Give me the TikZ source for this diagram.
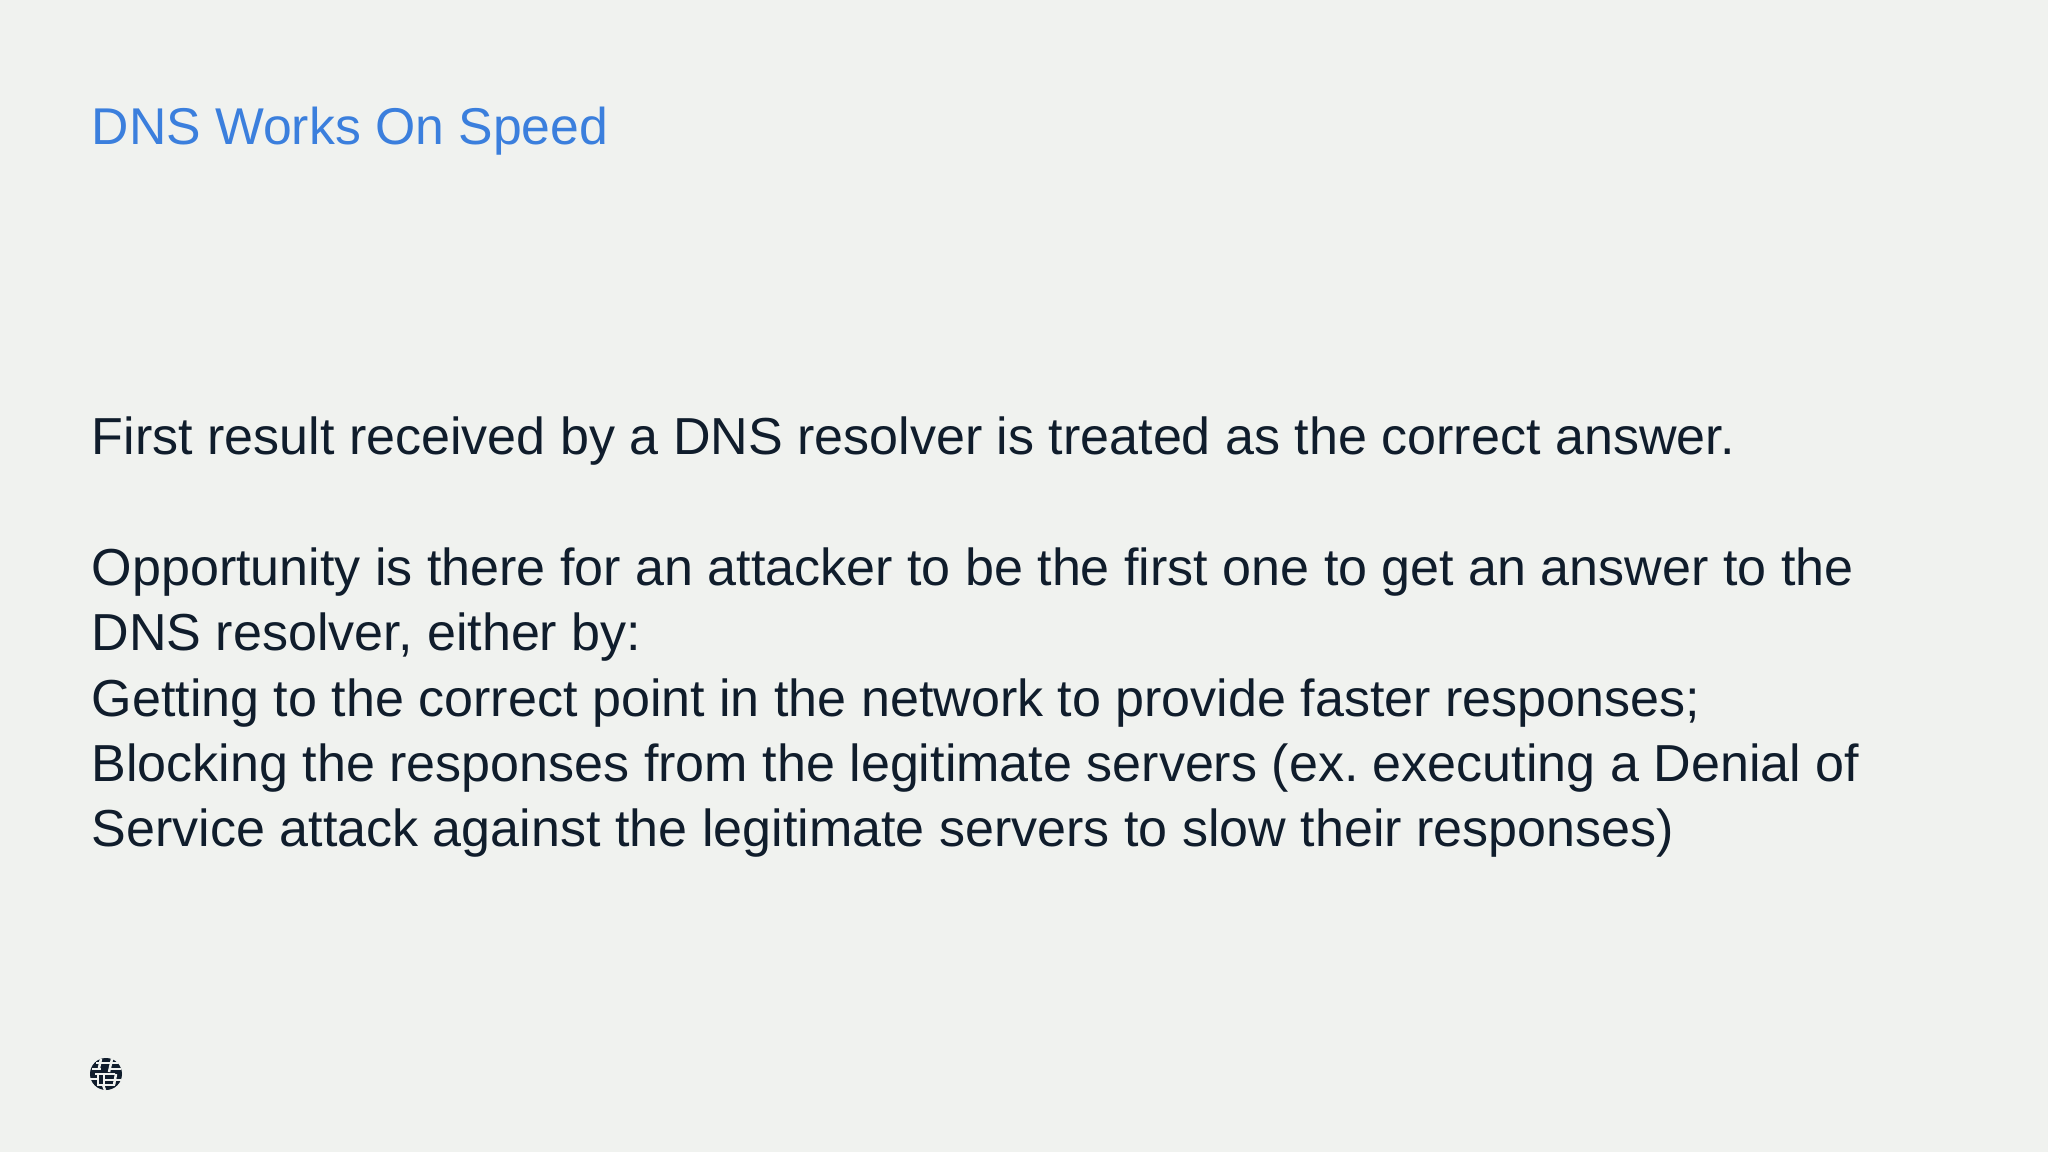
\documentclass[tikz,border=0pt]{standalone}
\usepackage{fontspec}
\setmainfont{Liberation Sans}
\definecolor{slidebg}{HTML}{F0F2EF}
\definecolor{titleblue}{HTML}{3B7FDD}
\definecolor{bodyink}{HTML}{101D2C}
\tikzset{
  titletext/.style={anchor=base west,inner sep=0pt,text=titleblue,font=\fontsize{14.71pt}{17pt}\selectfont},
  bodytext/.style={anchor=base west,inner sep=0pt,text=bodyink,font=\fontsize{14.8pt}{18.5pt}\selectfont\frenchspacing},
  gap/.style={slidebg,line width=0.025cm}
}
\begin{document}
\begin{tikzpicture}[x=0.01cm,y=-0.01cm]
\useasboundingbox[fill=slidebg] (0,0) rectangle (2048,1152);
\node[titletext] (title) at (91,145) {DNS Works On Speed};
\node[bodytext] (lineone) at (91,455) {First result received by a DNS resolver is treated as the correct answer.};
\node[bodytext] (linetwo) at (91,585) {Opportunity is there for an attacker to be the first one to get an answer to the};
\node[bodytext] (linethree) at (91,650) {DNS resolver, either by:};
\node[bodytext] (linefour) at (91,716) {Getting to the correct point in the network to provide faster responses;};
\node[bodytext] (linefive) at (91,781) {Blocking the responses from the legitimate servers (ex. executing a Denial of};
\node[bodytext] (linesix) at (91,846) {Service attack against the legitimate servers to slow their responses)};
% globe
\fill[bodyink] (106,1074) circle [radius=16];
\draw[gap] (96,1063)--(118,1063);
\draw[gap] (92,1069)--(101,1069);
\draw[gap] (110,1069)--(121,1069);
\draw[gap] (95,1074)--(115,1074);
\draw[gap] (90,1079)--(97,1079);
\draw[gap] (104,1080)--(121,1080);
\draw[gap] (97,1085)--(115,1085);
\draw[gap] (101,1059)--(99,1068);
\draw[gap] (112,1059)--(109,1072);
\draw[gap] (98,1074)--(98,1085);
\draw[gap] (104,1074)--(104,1085);
\draw[gap] (116,1074)--(114,1085);
\draw[gap] (103,1085)--(105,1090);
\end{tikzpicture}
\end{document}
